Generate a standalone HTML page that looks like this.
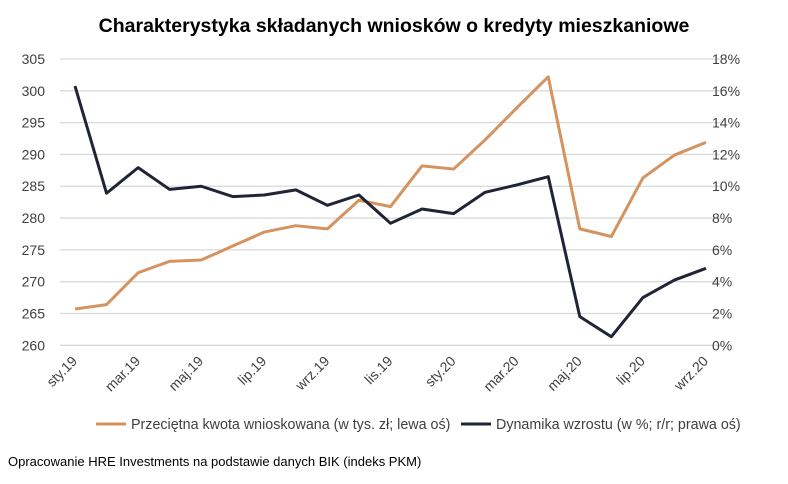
<!DOCTYPE html>
<html><head><meta charset="utf-8"><style>
body{margin:0;background:#fff;font-family:"Liberation Sans",sans-serif;}
svg text{font-family:"Liberation Sans",sans-serif;fill:#404040;}
</style></head><body>
<svg width="788" height="479" viewBox="0 0 788 479">
<text x="394" y="32" text-anchor="middle" font-size="19.5" font-weight="bold" style="fill:#000">Charakterystyka składanych wniosków o kredyty mieszkaniowe</text>
<g id="grid"></g><g id="laxis"></g><g id="raxis"></g><g id="xaxis"></g><g id="series"></g>
<g>
<g><line x1="96" y1="424" x2="126" y2="424" stroke="#D4935F" stroke-width="3"/><text x="131" y="429" font-size="14.3">Przeciętna kwota wnioskowana (w tys. zł; lewa oś)</text></g>
<g><line x1="461" y1="424" x2="491" y2="424" stroke="#1F2537" stroke-width="3"/><text x="496" y="429" font-size="14.3">Dynamika wzrostu (w %; r/r; prawa oś)</text></g>
</g>
<text x="8" y="466" font-size="13" style="fill:#000">Opracowanie HRE Investments na podstawie danych BIK (indeks PKM)</text>
</svg>
<script>
const months=["sty.19","lut.19","mar.19","kwi.19","maj.19","cze.19","lip.19","sie.19","wrz.19","paź.19","lis.19","gru.19","sty.20","lut.20","mar.20","kwi.20","maj.20","cze.20","lip.20","sie.20","wrz.20"];
const amount=[265.7,266.4,271.4,273.2,273.4,275.6,277.8,278.8,278.3,282.8,281.8,288.2,287.7,292.3,297.3,302.2,278.3,277.1,286.3,289.9,291.9];
const growth=[16.3,9.56,11.17,9.8,10.0,9.35,9.45,9.77,8.8,9.45,7.67,8.57,8.28,9.62,10.08,10.6,1.8,0.54,3.0,4.1,4.84];
const leftTicks=[260,265,270,275,280,285,290,295,300,305];
const rightTicks=[0,2,4,6,8,10,12,14,16,18];
const NS="http://www.w3.org/2000/svg";
const yTop=59,yBot=345.3,x0=75,dx=31.55;
const yL=v=>yBot-(v-260)/45*(yBot-yTop);
const yR=v=>yBot-v/18*(yBot-yTop);
const xS=i=>x0+i*dx;
function mk(t,a,p){const e=document.createElementNS(NS,t);for(const k in a)e.setAttribute(k,a[k]);p.appendChild(e);return e;}
const grid=document.getElementById('grid'),la=document.getElementById('laxis'),ra=document.getElementById('raxis'),xa=document.getElementById('xaxis'),se=document.getElementById('series');
leftTicks.forEach(v=>{
 const l=mk('line',{x1:60,x2:720,y1:yL(v),y2:yL(v),stroke:'#d9d9d9','stroke-width':1.3},grid);
 
 
 const t=mk('text',{x:45,y:yL(v)+5,'text-anchor':'end','font-size':14},la);t.textContent=v;
 
 
});
rightTicks.forEach(v=>{
 const t=mk('text',{x:712,y:yR(v)+5,'font-size':14},ra);t.textContent=v+'%';
 
 
});
months.forEach((m,i)=>{if(i%2)return;
 const x=xS(i)+3,y=362;
 const t=mk('text',{x:x,y:y,'text-anchor':'end','font-size':14,transform:`rotate(-45 ${x} ${y})`},xa);t.textContent=m;
 
 
});
const pa=mk('polyline',{points:amount.map((v,i)=>xS(i)+','+yL(v)).join(' '),fill:'none',stroke:'#D4935F','stroke-width':3,'stroke-linejoin':'round'},se);


const pg=mk('polyline',{points:growth.map((v,i)=>xS(i)+','+yR(v)).join(' '),fill:'none',stroke:'#1F2537','stroke-width':3,'stroke-linejoin':'round'},se);


</script>
</body></html>
